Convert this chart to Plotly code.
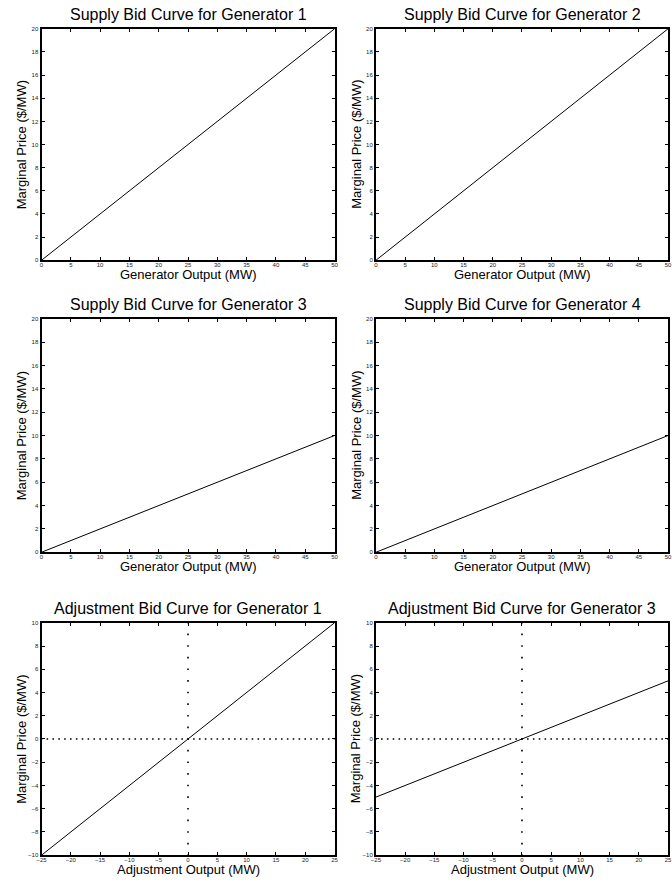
import plotly.graph_objects as go

# ---- data ----
supply_titles = ["Supply Bid Curve for Generator 1", "Supply Bid Curve for Generator 2",
                 "Supply Bid Curve for Generator 3", "Supply Bid Curve for Generator 4"]
supply_x = [0, 50]
supply_y_g1 = [0, 20]
supply_y_g2 = [0, 20]
supply_y_g3 = [0, 10]
supply_y_g4 = [0, 10]

adj_titles = ["Adjustment Bid Curve for Generator 1", "Adjustment Bid Curve for Generator 3"]
adj_x = [-25, 25]
adj_y_g1 = [-10, 10]
adj_y_g3 = [-5, 5]

supply_xticks = [0, 5, 10, 15, 20, 25, 30, 35, 40, 45, 50]
supply_yticks = [0, 2, 4, 6, 8, 10, 12, 14, 16, 18, 20]
adj_xticks = [-25, -20, -15, -10, -5, 0, 5, 10, 15, 20, 25]
adj_yticks = [-10, -8, -6, -4, -2, 0, 2, 4, 6, 8, 10]

# dotted zero guide lines (dots at each integer unit)
guide_h_x = list(range(-25, 26))
guide_v_y = list(range(-10, 11))

supply_xlabel = "Generator Output (MW)"
adj_xlabel = "Adjustment Output (MW)"
ylabel = "Marginal Price ($/MW)"

# ---- layout geometry (pixels) ----
W, H = 672, 888
cols = [(37, 334), (376, 672)]
rows = [(26, 259), (318, 553), (624, 858)]

FONT = "Liberation Sans, Arial, Helvetica, sans-serif"

fig = go.Figure()

panels = [
    (0, 0, supply_titles[0], supply_x, supply_y_g1, supply_xticks, supply_yticks, [0, 50], [0, 20], supply_xlabel, False),
    (0, 1, supply_titles[1], supply_x, supply_y_g2, supply_xticks, supply_yticks, [0, 50], [0, 20], supply_xlabel, False),
    (1, 0, supply_titles[2], supply_x, supply_y_g3, supply_xticks, supply_yticks, [0, 50], [0, 20], supply_xlabel, False),
    (1, 1, supply_titles[3], supply_x, supply_y_g4, supply_xticks, supply_yticks, [0, 50], [0, 20], supply_xlabel, False),
    (2, 0, adj_titles[0], adj_x, adj_y_g1, adj_xticks, adj_yticks, [-25, 25], [-10, 10], adj_xlabel, True),
    (2, 1, adj_titles[1], adj_x, adj_y_g3, adj_xticks, adj_yticks, [-25, 25], [-10, 10], adj_xlabel, True),
]

annotations = []
for i, (r, c, title, xs, ys, xt, yt, xr, yr, xlab, guides) in enumerate(panels):
    n = i + 1
    xa = "x" if n == 1 else f"x{n}"
    ya = "y" if n == 1 else f"y{n}"
    x0, x1 = cols[c]
    top, bot = rows[r]
    xdom = [x0 / W, x1 / W]
    ydom = [1 - bot / H, 1 - top / H]

    if guides:
        fig.add_trace(go.Scatter(x=guide_h_x, y=[0] * len(guide_h_x), mode="markers",
                                 marker=dict(symbol="square", size=1.6, color="black", line=dict(width=0)),
                                 xaxis=xa, yaxis=ya, showlegend=False, hoverinfo="skip", cliponaxis=True))
        fig.add_trace(go.Scatter(x=[0] * len(guide_v_y), y=guide_v_y, mode="markers",
                                 marker=dict(symbol="square", size=1.6, color="black", line=dict(width=0)),
                                 xaxis=xa, yaxis=ya, showlegend=False, hoverinfo="skip", cliponaxis=True))
    fig.add_trace(go.Scatter(x=xs, y=ys, mode="lines", line=dict(color="black", width=1),
                             xaxis=xa, yaxis=ya, showlegend=False, hoverinfo="skip"))

    axis_common = dict(showgrid=False, zeroline=False, showline=True, linecolor="black", linewidth=2,
                       mirror="ticks", ticks="inside", ticklen=3, tickwidth=1, tickcolor="black",
                       tickfont=dict(family=FONT, size=6, color="#222"), fixedrange=True)
    fig.update_layout(**{
        ("xaxis" if n == 1 else f"xaxis{n}"): dict(domain=xdom, range=xr, tickmode="array", tickvals=xt,
                                                   anchor=ya, ticklabelstandoff=-2, **axis_common),
        ("yaxis" if n == 1 else f"yaxis{n}"): dict(domain=ydom, range=yr, tickmode="array", tickvals=yt,
                                                   anchor=xa, ticklabelstandoff=0, **axis_common),
    })

    pcx = (x0 + 297 / 2) / W
    # title
    annotations.append(dict(text=title, xref="paper", yref="paper", x=pcx, y=1 - (top - 14) / H,
                            xanchor="center", yanchor="middle", showarrow=False,
                            font=dict(family=FONT, size=16, color="black")))
    # x label
    annotations.append(dict(text=xlab, xref="paper", yref="paper", x=pcx, y=1 - (bot + 14) / H,
                            xanchor="center", yanchor="middle", showarrow=False,
                            font=dict(family=FONT, size=13, color="black")))
    # y label
    annotations.append(dict(text=ylabel, xref="paper", yref="paper", x=(x0 - 20) / W, y=1 - ((top + bot) / 2) / H,
                            xanchor="center", yanchor="middle", textangle=-90, showarrow=False,
                            font=dict(family=FONT, size=13, color="black")))

fig.update_layout(width=W, height=H, margin=dict(l=0, r=0, t=0, b=0),
                  paper_bgcolor="white", plot_bgcolor="white", annotations=annotations,
                  showlegend=False)

fig.write_html("out.html", config={"displayModeBar": False})
